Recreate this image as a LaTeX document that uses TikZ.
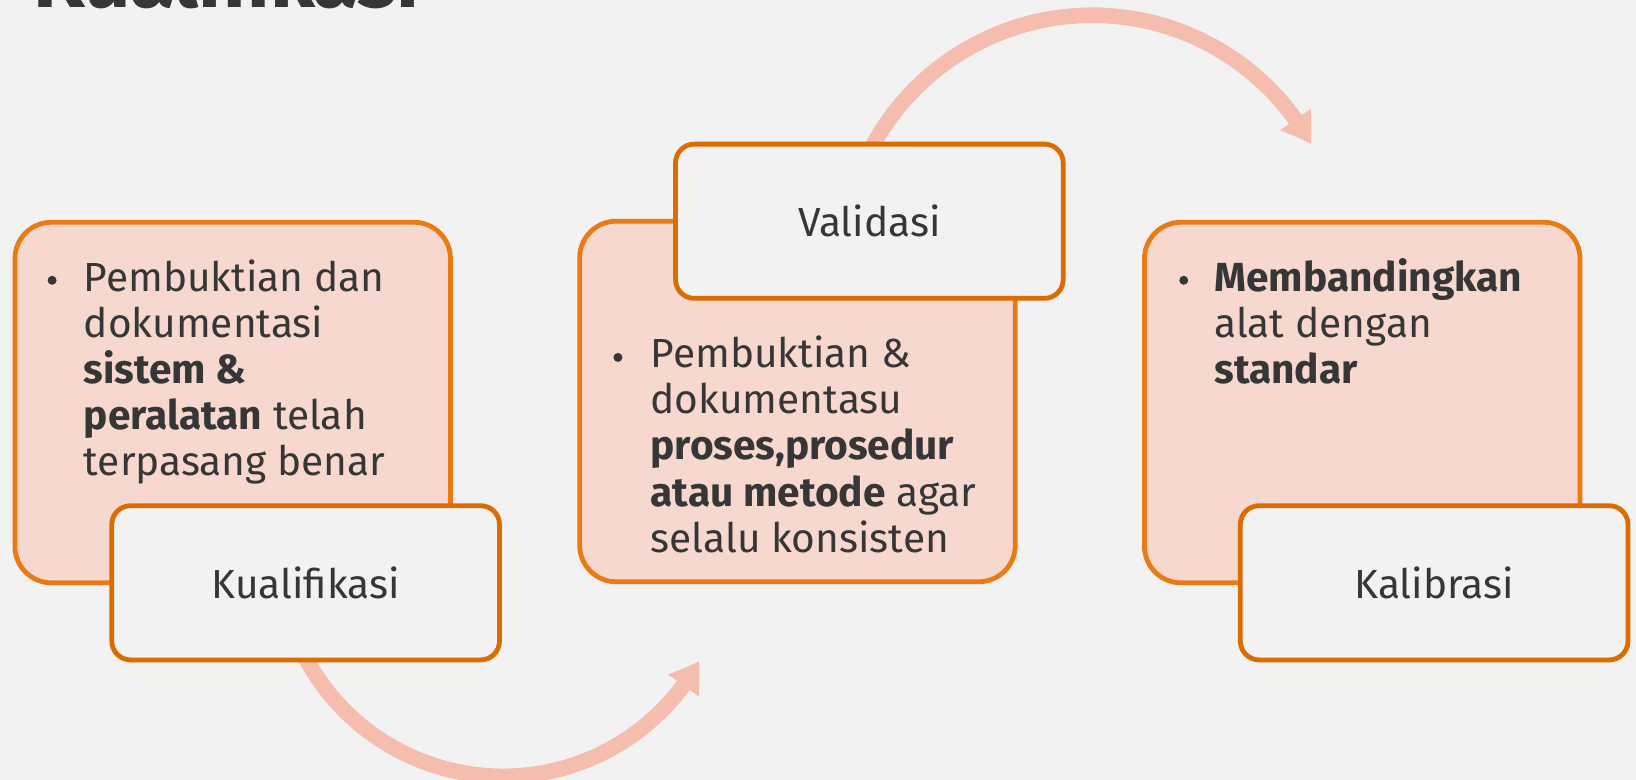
\documentclass[tikz,border=0pt]{standalone}
\usepackage{fontspec}
\setmainfont{Fira Sans}
\usetikzlibrary{arrows.meta,backgrounds,bending}
\definecolor{bgc}{HTML}{F2F2F2}
\definecolor{boxfill}{HTML}{F6D8CF}
\definecolor{boxline}{HTML}{EC7A14}
\definecolor{labline}{HTML}{DA6C00}
\definecolor{textcol}{HTML}{363636}
\definecolor{arccol}{HTML}{F4BDAD}
\begin{document}
\begin{tikzpicture}[x=0.5pt,y=-0.5pt,
  bigbox/.style={draw=boxline, fill=boxfill, line width=2.3pt, rounded corners=17.5pt,
    anchor=north west, inner sep=0pt, minimum width=209pt, minimum height=173pt},
  labbox/.style={draw=labline, fill=bgc, line width=2.3pt, rounded corners=9pt,
    anchor=north west, inner sep=0pt, minimum width=186pt, minimum height=74pt,
    text=textcol, font=\fontsize{19.5}{21}\selectfont},
  txt/.style={anchor=base west, inner sep=0pt, text=textcol, font=\fontsize{19.5}{21}\selectfont},
  bul/.style={circle, fill=textcol, inner sep=0pt, minimum size=4.3pt},
  titletxt/.style={anchor=base west, inner sep=0pt, text=textcol, font=\bfseries\fontsize{39}{40}\selectfont},
  arcarrow/.style={draw=arccol, line width=7.5pt, -{Triangle[width=17pt,length=14pt,bend]}}
]
\useasboundingbox (0,0) rectangle (1570,748.5);
\clip (0,0) rectangle (1570,748.5);

\node[titletxt] (title) at (32,7) {Kualifikasi};

% big boxes
\node[bigbox] (boxA) at (12,211) {};
\node[bigbox] (boxB) at (554,210) {};
\node[bigbox] (boxC) at (1096,211) {};

% left text
\node[bul] (bA) at (50,269) {};
\node[txt] (a1) at (80,280) {Pembuktian dan};
\node[txt] (a2) at (80,324) {dokumentasi};
\node[txt] (a3) at (80,368) {\textbf{sistem \&}};
\node[txt] (a4) at (80,412) {\textbf{peralatan} telah};
\node[txt] (a5) at (80,456) {terpasang benar};

% middle text
\node[bul] (bB) at (593,343) {};
\node[txt] (m1) at (624,353) {Pembuktian \&};
\node[txt] (m2) at (624,397) {dokumentasu};
\node[txt] (m3) at (624,441) {\textbf{proses,prosedur}};
\node[txt] (m4) at (624,486) {\textbf{atau metode} agar};
\node[txt] (m5) at (624,530) {selalu konsisten};

% right text
\node[bul] (bC) at (1136,269) {};
\node[txt] (r1) at (1165,280) {\textbf{Membandingkan}};
\node[txt] (r2) at (1165,324) {alat dengan};
\node[txt] (r3) at (1165,368) {\textbf{standar}};

% label boxes
\node[labbox] (kual) at (105,483) {Kualifikasi};
\node[labbox] (val) at (646,136) {Validasi};
\node[labbox] (kal) at (1188,483) {Kalibrasi};

\begin{scope}[on background layer]
  \fill[bgc] (0,0) rectangle (1570,748.5);
  \draw[arcarrow] (kual.south) ++(-2,-8) arc[start angle=153, end angle=29, radius=215];
  \draw[arcarrow] (val.north) ++(2,6) arc[start angle=-152, end angle=-29, radius=240];
\end{scope}
\end{tikzpicture}
\end{document}
